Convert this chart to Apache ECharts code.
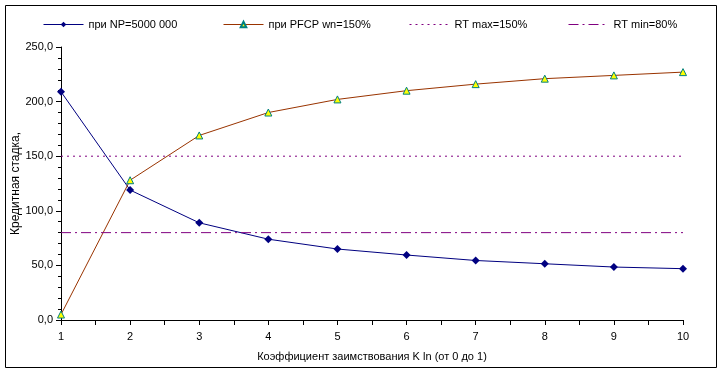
<!DOCTYPE html>
<html><head><meta charset="utf-8">
<script src="https://cdn.jsdelivr.net/npm/echarts@6/dist/echarts.min.js"></script>
<style>html,body{margin:0;padding:0;background:#fff}#c{width:722px;height:373px}</style>
</head><body><div id="c"></div>
<script>
var xValues = [1, 2, 3, 4, 5, 6, 7, 8, 9, 10];
var seriesNP = [209, 119, 89, 74, 65, 59.5, 54.5, 51.5, 48.5, 47];
var seriesPFCP = [5, 128, 169, 190, 202, 210, 216, 221, 224, 227];
var rtMaxX = [1, 10];
var rtMax = [150, 150];
var rtMinX = [1, 10];
var rtMin = [80, 80];
var names = ['при NP=5000 000', 'при PFCP wn=150%', 'RT max=150%', 'RT min=80%'];
var xName = 'Коэффициент заимствования K ln (от 0 до 1)';
var yName = 'Кредитная стадка,';

function pairs(xs, ys) { return xs.map(function (x, i) { return [x, ys[i]]; }); }
var font = 'Liberation Sans';
var txt = { fontFamily: font, fontSize: 11, color: '#000' };

function lg(name, left, hideSym) {
  var d = { name: name };
  if (hideSym) d.itemStyle = { opacity: 0 };
  return {
    data: [d], left: left, top: 14, itemWidth: 40, itemHeight: 7,
    textStyle: txt, selectedMode: false,
    lineStyle: { width: 1 }
  };
}

var chart = echarts.init(document.getElementById('c'));
chart.setOption({
  animation: false,
  backgroundColor: '#fff',
  graphic: [{ type: 'rect', shape: { x: 5.5, y: 5.5, width: 711, height: 362 }, style: { fill: 'none', stroke: '#000', lineWidth: 1 } }],
  legend: [lg(names[0], 38), lg(names[1], 218), lg(names[2], 404, true), lg(names[3], 563, true)],
  grid: { left: 61, right: 39, top: 47, bottom: 53, containLabel: false, outerBoundsMode: 'none' },
  xAxis: {
    type: 'value', min: 1, max: 10, interval: 1,
    name: xName, nameLocation: 'middle', nameGap: 31, nameMoveOverlap: false,
    nameTextStyle: txt,
    axisLine: { lineStyle: { color: '#000' } },
    axisTick: { show: true, length: 5, lineStyle: { color: '#000' } },
    minorTick: { show: true, splitNumber: 2, length: 5, lineStyle: { color: '#000' } },
    splitLine: { show: false },
    axisLabel: Object.assign({ margin: 11 }, txt)
  },
  yAxis: {
    type: 'value', min: 0, max: 250, interval: 50,
    name: yName, nameLocation: 'middle', nameGap: 39, nameRotate: 90, nameMoveOverlap: false,
    nameTextStyle: Object.assign({}, txt, { fontSize: 12 }),
    axisLine: { show: true, lineStyle: { color: '#000' } },
    axisTick: { show: true, length: 5, lineStyle: { color: '#000' } },
    minorTick: { show: true, splitNumber: 5, length: 3, lineStyle: { color: '#000' } },
    splitLine: { show: false },
    axisLabel: Object.assign({ margin: 8, formatter: function (v) { return v.toFixed(1).replace('.', ','); } }, txt)
  },
  series: [
    {
      name: names[0], type: 'line', data: pairs(xValues, seriesNP),
      symbol: 'diamond', symbolSize: 8,
      lineStyle: { color: '#000080', width: 1 },
      itemStyle: { color: '#000080' }
    },
    {
      name: names[1], type: 'line', data: pairs(xValues, seriesPFCP),
      symbol: 'triangle', symbolSize: 7,
      lineStyle: { color: '#993300', width: 1 },
      itemStyle: { color: '#ffff00', borderColor: '#008080', borderWidth: 1 }
    },
    {
      name: names[2], type: 'line', data: pairs(rtMaxX, rtMax), symbol: 'none',
      lineStyle: { color: '#800080', width: 1, type: [2, 4] },
      itemStyle: { color: '#800080' }
    },
    {
      name: names[3], type: 'line', data: pairs(rtMinX, rtMin), symbol: 'none',
      lineStyle: { color: '#800080', width: 1, type: [10, 4, 2, 4] },
      itemStyle: { color: '#800080' }
    }
  ]
});
</script></body></html>
